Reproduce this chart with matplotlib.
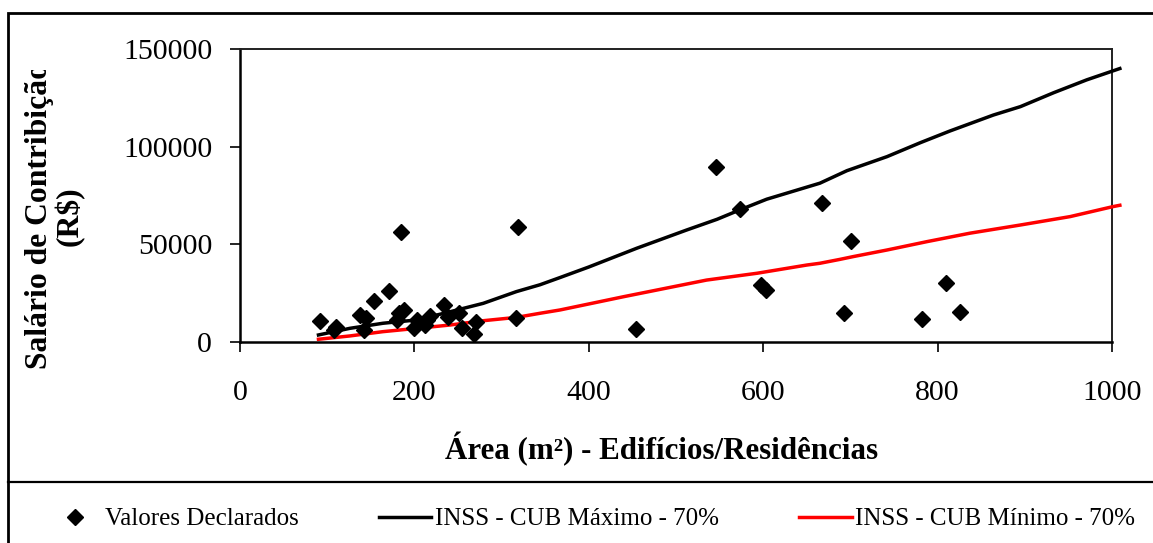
import matplotlib
matplotlib.use("Agg")
import matplotlib.pyplot as plt
from matplotlib.lines import Line2D
from matplotlib.patches import Rectangle
from matplotlib.transforms import Bbox, TransformedBbox
from matplotlib.ticker import StrMethodFormatter

# Declared values: built area (m²) and declared contribution salary (R$)
area_declarada = [92, 110, 108, 138, 145, 142, 154, 171, 185, 180, 182, 188,
                  200, 203, 212, 214, 218, 234, 238, 251, 255, 271, 268, 319,
                  316, 454, 546, 573, 598, 603, 667, 693, 701, 782, 810, 826]
valor_declarado = [10500, 7500, 6000, 13800, 12300, 6100, 20800, 26000, 56500,
                   11400, 14700, 16600, 7200, 11300, 8900, 11300, 13300, 18900,
                   12600, 14700, 7200, 10300, 4100, 58700, 12500, 6500, 89400,
                   67900, 29000, 26600, 71300, 14700, 51700, 11600, 30000, 15500]

# INSS reference curve, maximum CUB at 70%
area_cub_max = [90, 126, 164, 203, 241, 279, 317, 344, 367, 400, 455, 512, 547,
                573, 604, 665, 696, 742, 780, 814, 864, 895, 933, 971, 1009]
inss_cub_max = [3600, 7000, 9600, 11300, 15500, 19800, 25800, 29300, 33000,
                38400, 48000, 57300, 62800, 67600, 73100, 81300, 87700, 94900,
                102000, 108000, 116200, 120500, 127600, 134200, 140000]

# INSS reference curve, minimum CUB at 70%
area_cub_min = [90, 126, 164, 203, 241, 279, 317, 344, 367, 440, 535, 593, 650,
                665, 688, 703, 742, 788, 837, 895, 952, 1001, 1009]
inss_cub_min = [1400, 3100, 5300, 7000, 8700, 10900, 12600, 14700, 16400,
                23200, 31700, 35200, 39400, 40300, 42300, 43700, 47100, 51400,
                55700, 59900, 64200, 69300, 70000]

x_ticks = [0, 200, 400, 600, 800, 1000]
y_ticks = [0, 50000, 100000, 150000]

W, H = 1153, 543
plt.rcParams['font.family'] = ['Liberation Serif', 'DejaVu Serif']

fig = plt.figure(figsize=(W / 100, H / 100), dpi=100)
fig.patch.set_facecolor('white')

ax = fig.add_axes([240 / W, 1 - 342 / H, 872 / W, 293 / H])

ax.plot(area_declarada, valor_declarado, linestyle='none', marker='D',
        markersize=8.4, color='black', label='Valores Declarados', zorder=4)
ax.plot(area_cub_max, inss_cub_max, color='black', lw=2.5,
        label='INSS - CUB Máximo - 70%', clip_on=False, zorder=3)
ax.plot(area_cub_min, inss_cub_min, color='#ff0000', lw=2.5,
        label='INSS - CUB Mínimo - 70%', clip_on=False, zorder=3)

ax.set_xlim(0, 1000)
ax.set_ylim(0, 150000)
ax.set_xticks(x_ticks)
ax.set_yticks(y_ticks)
ax.yaxis.set_major_formatter(StrMethodFormatter('{x:.0f}'))
ax.tick_params(axis='both', direction='out', length=7, width=1.2,
               labelsize=21.5, color='black')
ax.tick_params(axis='y', pad=13)
ax.tick_params(axis='x', pad=20)

for side in ('left', 'bottom'):
    ax.spines[side].set_linewidth(1.8)
    ax.spines[side].set_color('black')
for side in ('top', 'right'):
    ax.spines[side].set_linewidth(1.4)
    ax.spines[side].set_color('#202020')

fig.text(662 / W, 1 - 449 / H, 'Área (m²) - Edifícios/Residências',
         ha='center', va='center', fontsize=22.3, fontweight='bold')

# Axis title box cuts the long first line at its top edge
ylab = fig.text(55 / W, 1 - 216 / H, 'Salário de Contribição\n(R$)',
                ha='center', va='center', rotation=90, fontsize=22.8,
                fontweight='bold', multialignment='center', linespacing=1.03)
ylab.set_clip_box(TransformedBbox(Bbox.from_extents(0, 0, 1, 1 - 70 / H),
                                  fig.transFigure))
ylab.set_clip_on(True)

# Outer chart border and the legend strip separator
fig.add_artist(Rectangle((8 / W, -0.05), 1.2, 1 - 13 / H + 0.05,
                         transform=fig.transFigure, fill=False,
                         edgecolor='black', lw=2, clip_on=False))
fig.add_artist(Line2D([8 / W, 1.0], [1 - 482 / H, 1 - 482 / H],
                      transform=fig.transFigure, color='black', lw=1.6))

handles, labels = ax.get_legend_handles_labels()
leg = fig.legend(handles, labels, loc='center', ncol=3,
                 bbox_to_anchor=(592 / W, 1 - 519 / H), frameon=False,
                 fontsize=18, handlelength=2.1, handletextpad=0.15,
                 columnspacing=3.2, borderpad=0.2)

fig.savefig('out.png', dpi=100, facecolor='white')
